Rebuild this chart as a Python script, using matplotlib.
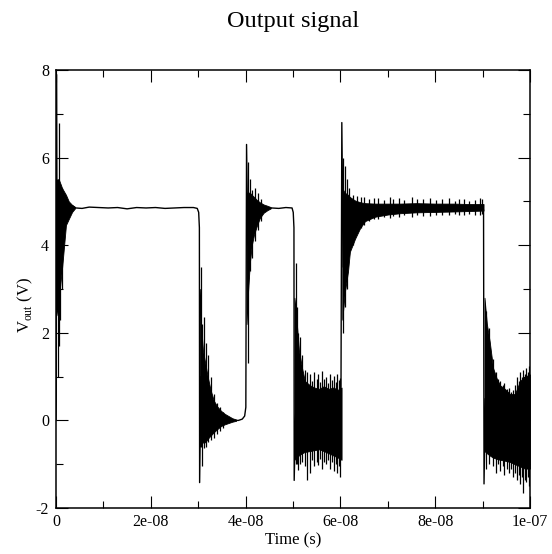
import numpy as np
import matplotlib
matplotlib.use("Agg")
import matplotlib.pyplot as plt
from matplotlib.ticker import MultipleLocator, FixedLocator, FixedFormatter

# ── data (time in ns, voltage in V) ──────────────────────────────────────────

# centre path: flat levels, rounded corners and the switching edges
trace_t = [0.0, 0.05, 0.1, 0.2, 1.0, 2.0, 3.5, 4.2, 5.5, 7.0, 9.0, 11.0, 13.0, 15.0,
           17.0, 19.0, 21.0, 23.0, 25.0, 27.0, 29.0, 29.8, 30.1, 30.25, 30.3, 30.6,
           31.5, 33.0, 35.0, 37.0, 38.5, 39.3, 39.8, 40.05, 40.2, 40.5, 42.0, 44.0,
           45.5, 47.0, 48.5, 49.8, 50.05, 50.2, 50.25, 50.6, 52.0, 55.0, 58.0, 60.1,
           60.3, 60.6, 62.0, 65.0, 70.0, 75.0, 80.0, 85.0, 90.0, 90.2, 90.3, 90.6,
           95.0, 100.0]
trace_v = [0.0, 0.45, 7.9, 4.6, 4.5, 4.8, 4.9, 4.85, 4.84, 4.87, 4.86, 4.85, 4.86, 4.83,
           4.86, 4.85, 4.86, 4.84, 4.85, 4.86, 4.86, 4.84, 4.75, 4.4, -1.42, 1.0,
           0.5, 0.15, 0.05, 0.0, 0.0, 0.03, 0.1, 0.3, 6.3, 4.0, 4.7, 4.82,
           4.85, 4.84, 4.86, 4.85, 4.75, 4.4, -1.37, 0.3, 0.05, 0.0, -0.05, -0.1,
           6.8, 3.5, 4.6, 4.85, 4.87, 4.86, 4.87, 4.86, 4.88, 4.8, -1.45, 0.5,
           0.0, 0.0]

# dense ringing bands: time, upper and lower edge of the filled region
band_a_t = [0.1, 0.6, 1.3, 2.1, 2.7, 3.4, 4.0]
band_a_hi = [5.5, 5.5, 5.3, 5.15, 5.0, 4.92, 4.87]
band_a_lo = [2.4, 2.8, 3.5, 4.46, 4.6, 4.76, 4.84]

band_b_t = [30.35, 30.6, 31.0, 31.5, 32.0, 32.6, 33.3, 34.0, 34.8, 35.6, 36.4, 37.2, 38.0]
band_b_hi = [3.0, 2.2, 1.6, 1.3, 1.0, 0.7, 0.45, 0.32, 0.22, 0.15, 0.1, 0.05, 0.02]
band_b_lo = [-0.6, -0.55, -0.5, -0.5, -0.42, -0.35, -0.27, -0.2, -0.13, -0.09, -0.06, -0.03, -0.01]

band_c_t = [40.2, 40.5, 40.9, 41.3, 41.8, 42.4, 43.0, 43.8, 44.6, 45.3]
band_c_hi = [5.2, 5.2, 5.2, 5.15, 5.1, 5.03, 4.98, 4.93, 4.9, 4.87]
band_c_lo = [2.2, 2.9, 3.6, 4.0, 4.25, 4.45, 4.62, 4.74, 4.8, 4.84]

band_d_t = [50.3, 50.6, 51.25, 51.9, 52.5, 53.6, 54.5, 55.5, 56.5, 57.5, 58.5, 59.5, 60.25]
band_d_hi = [2.8, 2.5, 1.6, 1.2, 0.9, 0.8, 0.75, 0.72, 0.78, 0.72, 0.75, 0.7, 0.75]
band_d_lo = [-0.9, -0.85, -0.8, -0.75, -0.72, -0.7, -0.68, -0.66, -0.7, -0.75, -0.8, -0.85, -0.9]

band_e_t = [60.4, 60.9, 61.6, 62.0, 63.1, 64.2, 65.2, 67.3, 70.0, 72.6, 76.0, 80.0, 84.0, 87.0, 90.2]
band_e_hi = [5.3, 5.2, 5.15, 5.1, 5.02, 4.98, 4.96, 4.95, 4.95, 4.95, 4.96, 4.95, 4.95, 4.94, 4.94]
band_e_lo = [2.3, 2.9, 3.4, 3.85, 4.15, 4.4, 4.55, 4.65, 4.7, 4.73, 4.75, 4.76, 4.77, 4.78, 4.79]

band_f_t = [90.4, 90.9, 91.5, 92.2, 93.0, 93.7, 94.7, 95.8, 96.8, 97.9, 98.9, 100.0]
band_f_hi = [2.8, 2.2, 1.8, 1.2, 0.95, 0.8, 0.72, 0.6, 0.6, 0.9, 1.0, 1.05]
band_f_lo = [-0.7, -0.75, -0.8, -0.85, -0.88, -0.9, -0.92, -0.95, -1.0, -1.05, -1.1, -1.1]

# single ringing spikes that stick out of the bands: time, top, bottom
spike_t = [0.35, 0.6, 0.9, 1.3,
           30.5, 30.85, 31.2, 31.6, 32.1, 32.7, 33.3, 33.9, 34.6, 35.3,
           40.45, 40.85, 41.3, 41.9, 42.6, 43.3,
           50.55, 50.8, 51.1, 51.5, 51.9, 52.5, 52.9, 53.6, 54.1, 54.5, 55.0,
           55.3, 55.8, 56.2, 56.6, 57.0, 57.4, 57.8, 58.2, 58.6, 59.0, 59.3,
           59.6, 59.9,
           60.65, 60.9, 61.3, 61.9, 62.7, 63.5, 64.3, 65.0, 66.0, 67.0, 68.0,
           69.2, 70.4, 71.0, 72.3, 73.5, 75.0, 76.2, 77.5, 79.0, 80.1, 81.4,
           83.0, 84.2, 85.1, 86.0, 87.2, 88.4, 89.5, 89.9,
           90.8, 91.4, 92.1, 92.9, 93.3, 93.7, 94.2, 94.6, 95.1, 95.5, 96.0,
           96.4, 96.8, 97.2, 97.6, 97.9, 98.3, 98.6, 98.9, 99.2, 99.5, 99.7]
spike_top = [5.5, 6.8, 5.4, 5.3,
             3.5, 2.2, 2.35, 1.76, 1.5, 1.0, 0.6, 0.4, 0.3, 0.2,
             5.9, 5.5, 5.26, 5.3, 5.2, 5.05,
             3.6, 2.6, 2.0, 1.9, 1.5, 1.15, 1.1, 1.05, 0.9, 1.1, 0.95,
             1.05, 0.88, 1.12, 0.95, 1.0, 0.86, 1.05, 0.92, 1.02, 0.88, 1.05,
             0.92, 0.97,
             6.0, 5.8, 5.5, 5.3, 5.15, 5.12, 5.1, 5.1, 5.05, 5.08, 5.08,
             5.04, 5.1, 5.05, 5.08, 5.04, 5.1, 5.05, 5.06, 5.08, 5.04, 5.06,
             5.08, 5.02, 5.05, 5.05, 5.02, 5.04, 5.08, 5.06,
             2.5, 2.1, 1.4, 1.1, 0.95, 0.9, 0.8, 0.85, 0.72, 0.75, 0.65,
             0.7, 0.8, 1.0, 0.9, 1.1, 1.0, 1.15, 1.05, 1.2, 1.1, 1.25]
spike_bot = [1.0, 1.7, 2.3, 3.0,
             -0.6, -1.03, -0.62, -0.6, -0.5, -0.45, -0.4, -0.3, -0.25, -0.18,
             1.3, 3.4, 3.7, 4.1, 4.35, 4.55,
             -1.0, -1.0, -1.14, -1.0, -0.95, -1.05, -1.35, -1.2, -0.9, -1.05, -0.95,
             -1.02, -0.88, -1.12, -0.95, -1.0, -0.9, -1.1, -0.95, -1.15, -1.0, -1.2,
             -1.05, -1.3,
             2.0, 2.6, 3.0, 3.8, 4.0, 4.3, 4.4, 4.45, 4.55, 4.6, 4.6,
             4.64, 4.62, 4.66, 4.64, 4.68, 4.65, 4.68, 4.66, 4.66, 4.7, 4.68,
             4.68, 4.72, 4.7, 4.7, 4.72, 4.7, 4.7, 4.72,
             -1.1, -1.0, -1.05, -1.2, -1.0, -1.15, -1.05, -1.25, -1.1, -1.2, -1.1,
             -1.3, -1.2, -1.35, -1.25, -1.45, -1.3, -1.65, -1.35, -1.4, -1.3, -1.5]

bands = [
    (band_a_t, band_a_hi, band_a_lo),
    (band_b_t, band_b_hi, band_b_lo),
    (band_c_t, band_c_hi, band_c_lo),
    (band_d_t, band_d_hi, band_d_lo),
    (band_e_t, band_e_hi, band_e_lo),
    (band_f_t, band_f_hi, band_f_lo),
]

xtick_vals = [0, 2e-8, 4e-8, 6e-8, 8e-8, 1e-7]
xtick_labels = ["0", "2e-08", "4e-08", "6e-08", "8e-08", "1e-07"]
ytick_vals = [-2, 0, 2, 4, 6, 8]

NS = 1e-9

# ── plot ──────────────────────────────────────────────────────────────────────

plt.rcParams["font.family"] = ["Liberation Serif", "DejaVu Serif"]
plt.rcParams["mathtext.fontset"] = "custom"
plt.rcParams["mathtext.rm"] = "Liberation Serif"
plt.rcParams["axes.unicode_minus"] = False

fig = plt.figure(figsize=(5.52, 5.54), dpi=100)
ax = fig.add_axes([56 / 552, 1 - 508 / 554, 474 / 552, 438 / 554])

for bt, bhi, blo in bands:
    ax.fill_between(np.array(bt) * NS, blo, bhi, color="black", linewidth=0.6,
                    edgecolor="black", zorder=2)

ax.vlines(np.array(spike_t) * NS, spike_bot, spike_top, color="black",
          linewidth=0.9, zorder=3)
ax.plot(np.array(trace_t) * NS, trace_v, color="black", linewidth=1.0, zorder=3)

ax.set_xlim(0, 1e-7)
ax.set_ylim(-2, 8)

ax.xaxis.set_major_locator(FixedLocator(xtick_vals))
ax.xaxis.set_major_formatter(FixedFormatter(xtick_labels))
ax.xaxis.set_minor_locator(MultipleLocator(1e-8))
ax.yaxis.set_major_locator(FixedLocator(ytick_vals))
ax.yaxis.set_minor_locator(MultipleLocator(1))

ax.tick_params(which="both", direction="in", top=True, right=True, width=0.8,
               colors="black", labelsize=11.5)
ax.tick_params(which="major", length=8.5)
ax.tick_params(which="minor", length=5)
ax.tick_params(axis="x", pad=4)
ax.tick_params(axis="y", pad=5)
for sp in ax.spines.values():
    sp.set_linewidth(1.1)

fig.text(293 / 552, 1 - 22 / 554, "Output signal", ha="center", va="center",
         fontsize=17.5)
fig.text(293 / 552, 1 - 540 / 554, "Time (s)", ha="center", va="center",
         fontsize=12)
fig.text(25 / 552, 1 - 305 / 554, r"V$_{\mathrm{out}}$ (V)", ha="center",
         va="center", rotation=90, fontsize=12)

plt.savefig("out.png", dpi=100)
plt.close()
